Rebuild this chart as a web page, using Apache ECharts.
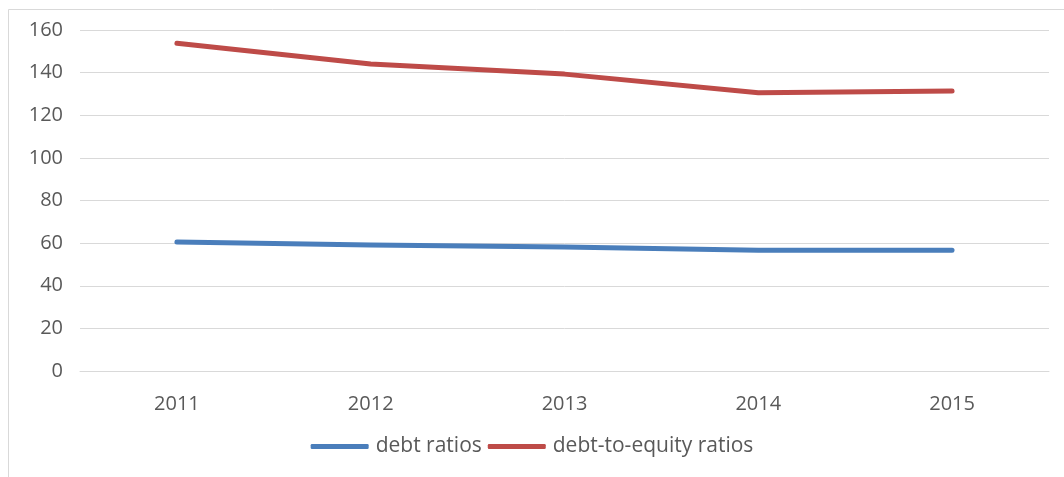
<!DOCTYPE html>
<html>
<head>
<meta charset="utf-8">
<script src="https://cdn.jsdelivr.net/npm/echarts@6/dist/echarts.min.js"></script>
<style>
html,body{margin:0;padding:0;background:#fff;}
#c{width:1064px;height:477px;}
</style>
</head>
<body>
<div id="c"></div>
<script>
const categories = ['2011', '2012', '2013', '2014', '2015'];
const debtRatios = [60.5, 59.1, 58.2, 56.7, 56.6];
const debtToEquityRatios = [153.8, 144.0, 139.3, 130.6, 131.4];
const seriesNames = ['debt ratios', 'debt-to-equity ratios'];

const chart = echarts.init(document.getElementById('c'), null, {renderer: 'canvas'});
const font = 'Open Sans, Noto Sans, sans-serif';
chart.setOption({
  animation: false,
  backgroundColor: '#ffffff',
  graphic: [{
    type: 'rect', silent: true, z: -1,
    shape: {x: 8.5, y: 9.5, width: 1070, height: 480},
    style: {fill: 'none', stroke: '#d9d9d9', lineWidth: 1}
  }],
  grid: {left: 80, right: 15, top: 30, bottom: 106},
  legend: {
    bottom: 15, left: 'center',
    itemWidth: 58, itemHeight: 5, itemGap: 6,
    icon: 'roundRect',
    textStyle: {color: '#595959', fontSize: 21, fontFamily: font, padding: [0, 0, 0, 2]},
    data: seriesNames
  },
  xAxis: {
    type: 'category', data: categories, boundaryGap: true,
    axisLine: {lineStyle: {color: '#d9d9d9'}},
    axisTick: {show: false},
    axisLabel: {color: '#595959', fontSize: 20, fontFamily: font, margin: 23}
  },
  yAxis: {
    type: 'value', min: 0, max: 160, interval: 20,
    axisLine: {show: false}, axisTick: {show: false},
    axisLabel: {color: '#595959', fontSize: 20, fontFamily: font, margin: 17},
    splitLine: {lineStyle: {color: '#d9d9d9', width: 1}}
  },
  series: [
    {name: seriesNames[0], type: 'line', data: debtRatios, symbol: 'none',
     lineStyle: {color: '#4a7ebb', width: 5, cap: 'round', join: 'round'},
     itemStyle: {color: '#4a7ebb'}},
    {name: seriesNames[1], type: 'line', data: debtToEquityRatios, symbol: 'none',
     lineStyle: {color: '#be4b48', width: 5, cap: 'round', join: 'round'},
     itemStyle: {color: '#be4b48'}}
  ]
});
</script>
</body>
</html>
